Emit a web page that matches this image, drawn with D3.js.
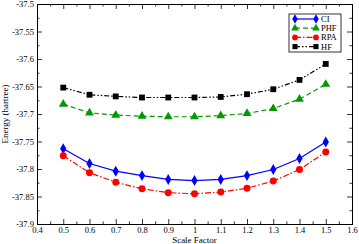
<!DOCTYPE html>
<html>
<head>
<meta charset="utf-8">
<script src="https://cdn.jsdelivr.net/npm/d3@7"></script>
<style>
  body { margin: 0; background: #fff; }
  text { font-family: "Liberation Serif", "DejaVu Serif", serif; }
</style>
</head>
<body>
<svg width="359" height="244"></svg>
<script>
// data
var scale = [0.5, 0.6, 0.7, 0.8, 0.9, 1.0, 1.1, 1.2, 1.3, 1.4, 1.5];
var ci  = [-37.763, -37.790, -37.804, -37.812, -37.819, -37.821, -37.819, -37.812, -37.801, -37.781, -37.751];
var phf = [-37.682, -37.698, -37.702, -37.704, -37.705, -37.705, -37.703, -37.699, -37.690, -37.673, -37.646];
var rpa = [-37.776, -37.807, -37.824, -37.836, -37.843, -37.845, -37.842, -37.835, -37.822, -37.801, -37.769];
var hf  = [-37.652, -37.665, -37.668, -37.670, -37.670, -37.670, -37.669, -37.664, -37.655, -37.638, -37.609];
var xTicks = [0.4, 0.5, 0.6, 0.7, 0.8, 0.9, 1, 1.1, 1.2, 1.3, 1.4, 1.5, 1.6];
var yTicks = [-37.9, -37.85, -37.8, -37.75, -37.7, -37.65, -37.6, -37.55, -37.5];

var series = [
  {name: "CI",  values: ci,  color: "#0000ff", dash: null,          symbol: d3.symbolDiamond},
  {name: "PHF", values: phf, color: "#009900", dash: "5,3",         symbol: d3.symbolTriangle},
  {name: "RPA", values: rpa, color: "#ff0000", dash: "6,2,1.5,2",   symbol: d3.symbolCircle},
  {name: "HF",  values: hf,  color: "#000000", dash: "5,2,1.5,2,1.5,2", symbol: d3.symbolSquare}
];

var svg = d3.select("svg");
var mLeft = 37, mRight = 352, mTop = 4, mBottom = 224;

var x = d3.scaleLinear().domain([0.4, 1.6]).range([mLeft, mRight]);
var y = d3.scaleLinear().domain([-37.9, -37.5]).range([mBottom, mTop]);

var fmt = function(d){ return String(+d.toFixed(2)); };

// axes, ticks pointing inside on all four sides
var xMinor = d3.range(0.45, 1.6, 0.1);
var yMinor = d3.range(-37.875, -37.5, 0.05);

svg.append("g").attr("transform", "translate(0," + mBottom + ")")
  .call(d3.axisBottom(x).tickValues(xTicks).tickSize(-5).tickFormat(fmt).tickPadding(3));
svg.append("g").attr("transform", "translate(0," + mBottom + ")")
  .call(d3.axisBottom(x).tickValues(xMinor).tickSize(-2.5).tickFormat(""));
svg.append("g").attr("transform", "translate(0," + mTop + ")")
  .call(d3.axisTop(x).tickValues(xTicks).tickSize(-5).tickFormat(""));
svg.append("g").attr("transform", "translate(0," + mTop + ")")
  .call(d3.axisTop(x).tickValues(xMinor).tickSize(-2.5).tickFormat(""));

svg.append("g").attr("transform", "translate(" + mLeft + ",0)")
  .call(d3.axisLeft(y).tickValues(yTicks).tickSize(-5).tickFormat(fmt).tickPadding(3));
svg.append("g").attr("transform", "translate(" + mLeft + ",0)")
  .call(d3.axisLeft(y).tickValues(yMinor).tickSize(-2.5).tickFormat(""));
svg.append("g").attr("transform", "translate(" + mRight + ",0)")
  .call(d3.axisRight(y).tickValues(yTicks).tickSize(-5).tickFormat(""));
svg.append("g").attr("transform", "translate(" + mRight + ",0)")
  .call(d3.axisRight(y).tickValues(yMinor).tickSize(-2.5).tickFormat(""));

svg.selectAll(".domain").attr("stroke", "#000").attr("stroke-width", 1);
svg.selectAll(".tick line").attr("stroke", "#000").attr("stroke-width", 0.8);
svg.selectAll(".tick text").attr("font-family", "Liberation Serif").attr("font-size", 8.5).attr("fill", "#000");

// axis labels
svg.append("text").attr("x", (mLeft + mRight) / 2).attr("y", 242.5)
  .attr("text-anchor", "middle").attr("font-size", 9).text("Scale Factor");
svg.append("text")
  .attr("transform", "translate(8," + (mTop + mBottom) / 2 + ") rotate(-90)")
  .attr("text-anchor", "middle").attr("font-size", 9).text("Energy (hartree)");

// lines and markers
var line = d3.line().x(function(d, i){ return x(scale[i]); }).y(function(d){ return y(d); });

series.forEach(function(s){
  svg.append("path").datum(s.values)
    .attr("d", line).attr("fill", "none")
    .attr("stroke", s.color).attr("stroke-width", 1.2)
    .attr("stroke-dasharray", s.dash);
  svg.append("g").selectAll("path").data(s.values).enter().append("path")
    .attr("transform", function(d, i){ return "translate(" + x(scale[i]) + "," + y(d) + ")"; })
    .attr("d", d3.symbol().type(s.symbol).size(s.symbol === d3.symbolCircle ? 38 : 34))
    .attr("fill", s.color);
});

// legend
var lg = svg.append("g").attr("transform", "translate(289,14)");
lg.append("rect").attr("width", 52).attr("height", 38)
  .attr("fill", "#fff").attr("stroke", "#000").attr("stroke-width", 0.8);
series.forEach(function(s, i){
  var ly = 5 + i * 9.2;
  lg.append("line").attr("x1", 6).attr("x2", 27).attr("y1", ly).attr("y2", ly)
    .attr("stroke", s.color).attr("stroke-width", 1.2).attr("stroke-dasharray", s.dash);
  [6, 27].forEach(function(px){
    lg.append("path").attr("transform", "translate(" + px + "," + ly + ")")
      .attr("d", d3.symbol().type(s.symbol).size(26)).attr("fill", s.color);
  });
  lg.append("text").attr("x", 32).attr("y", ly + 3).attr("font-size", 8.5).text(s.name);
});
</script>
</body>
</html>
